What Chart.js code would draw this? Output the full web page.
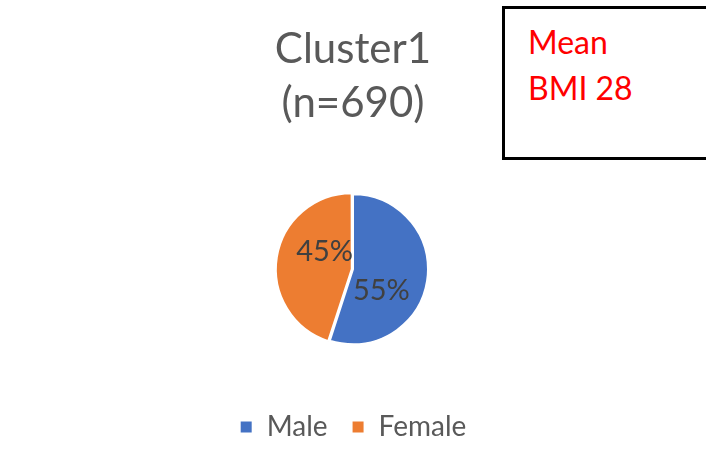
<!DOCTYPE html>
<html>
<head>
<meta charset="utf-8">
<script src="https://cdn.jsdelivr.net/npm/chart.js@4.4.1/dist/chart.umd.min.js"></script>
<style>
  html, body { margin: 0; padding: 0; background: #fff; }
  #wrap { position: relative; width: 706px; height: 469px; }
  #note {
    position: absolute; left: 502px; top: 6px; width: 193px; height: 148px;
    border: 3px solid #000; background: #fff;
    font-family: Lato, "Open Sans", sans-serif; font-size: 32px; line-height: 46px;
    color: #ff0000; padding: 0 0 0 23px; box-sizing: content-box;
  }
  #note div:first-child { margin-top: 10px; }
</style>
</head>
<body>
<div id="wrap">
  <canvas id="pie" width="706" height="469"></canvas>
  <div id="note"><div>Mean</div><div>BMI 28</div></div>
</div>
<script>
const categories = ['Male', 'Female'];
const shares = [55, 45];
const sliceColors = ['#4472C4', '#ED7D31'];
const titleLines = ['Cluster1', '(n=690)'];

// percent labels drawn inside each slice
const sliceLabels = {
  id: 'sliceLabels',
  afterDatasetsDraw(chart) {
    const ctx = chart.ctx;
    const meta = chart.getDatasetMeta(0);
    ctx.save();
    ctx.font = '29px Lato, "Open Sans", sans-serif';
    ctx.fillStyle = '#404040';
    ctx.textAlign = 'center';
    ctx.textBaseline = 'middle';
    meta.data.forEach((arc, i) => {
      const p = arc.getProps(['x', 'y', 'startAngle', 'endAngle', 'outerRadius'], true);
      const mid = (p.startAngle + p.endAngle) / 2 + 0.45;
      const r = p.outerRadius * 0.46;
      ctx.fillText(shares[i] + '%', p.x + Math.cos(mid) * r, p.y + Math.sin(mid) * r + 2);
    });
    ctx.restore();
  }
};

new Chart(document.getElementById('pie').getContext('2d'), {
  type: 'pie',
  data: {
    labels: categories,
    datasets: [{
      data: shares,
      backgroundColor: sliceColors,
      borderColor: '#fff',
      borderWidth: 2,
      offset: [0, 5],
      radius: 75
    }]
  },
  options: {
    responsive: false,
    animation: false,
    layout: { padding: { top: 0, bottom: 18 } },
    plugins: {
      title: {
        display: true,
        text: titleLines,
        color: '#595959',
        font: { family: 'Lato, "Open Sans", sans-serif', size: 42, weight: 'normal', lineHeight: 1.28 },
        padding: { top: 23, bottom: 19 }
      },
      legend: {
        position: 'bottom',
        labels: {
          color: '#595959',
          font: { family: 'Lato, "Open Sans", sans-serif', size: 28 },
          usePointStyle: true,
          pointStyle: 'rect',
          boxWidth: 13,
          boxHeight: 13,
          padding: 24
        }
      },
      tooltip: { enabled: false }
    }
  },
  plugins: [sliceLabels]
});
</script>
</body>
</html>
